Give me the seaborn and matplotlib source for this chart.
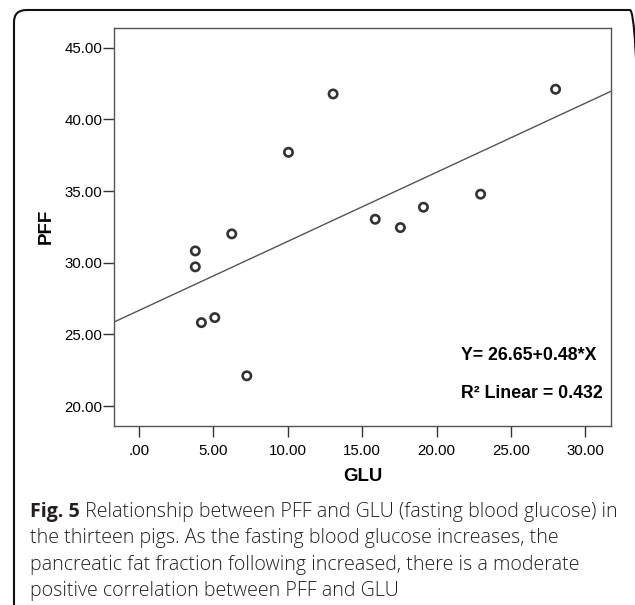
import numpy as np
import pandas as pd
import matplotlib
matplotlib.use("Agg")
import matplotlib.pyplot as plt
import seaborn as sns
from matplotlib.patches import FancyBboxPatch

# ---- data ----
glu = [3.79, 3.79, 6.24, 10.05, 13.05, 15.88, 17.57, 19.12, 22.96, 28.00, 4.20, 5.10, 7.25]
pff = [30.82, 29.71, 32.01, 37.70, 41.77, 33.03, 32.45, 33.87, 34.78, 42.10, 25.82, 26.17, 22.11]
x_ticks = [0, 5, 10, 15, 20, 25, 30]
x_ticklabels = [".00", "5.00", "10.00", "15.00", "20.00", "25.00", "30.00"]
y_ticks = [20, 25, 30, 35, 40, 45]
y_ticklabels = ["20.00", "25.00", "30.00", "35.00", "40.00", "45.00"]
eq_text = "Y= 26.65+0.48*X"
r2_text = "R² Linear = 0.432"
caption_bold = "Fig. 5"
caption_lines = [
    " Relationship between PFF and GLU (fasting blood glucose) in",
    "the thirteen pigs. As the fasting blood glucose increases, the",
    "pancreatic fat fraction following increased, there is a moderate",
    "positive correlation between PFF and GLU",
]

df = pd.DataFrame({"GLU": glu, "PFF": pff})

sns.set_theme(style="white")
plt.rcParams["font.family"] = ["Liberation Sans", "DejaVu Sans"]

fig = plt.figure(figsize=(6.35, 6.05), dpi=100)
fig.patch.set_facecolor("white")

# outer rounded box
box = FancyBboxPatch((14 / 635, -0.05), 0.99, 1 - 10 / 605 + 0.05,
                     boxstyle="round,pad=0,rounding_size=0.02",
                     transform=fig.transFigure, fill=False,
                     edgecolor="#111111", linewidth=1.5, zorder=0)
fig.patches.append(box)

ax = fig.add_axes([114.2 / 635, 179.3 / 605, 496.6 / 635, 397.4 / 605])
xlim = (-1.66, 31.71)
ylim = (18.63, 46.35)
ax.set_xlim(*xlim)
ax.set_ylim(*ylim)

sns.regplot(data=df, x="GLU", y="PFF", ax=ax, ci=None, truncate=False,
            scatter_kws=dict(s=36, facecolors="none", edgecolors="black",
                             linewidths=1.9, zorder=3),
            line_kws=dict(color="#555555", linewidth=1.0, zorder=2))
ax.set_xlim(*xlim)
ax.set_ylim(*ylim)

for sp in ax.spines.values():
    sp.set_visible(True)
    sp.set_color("#555555")
    sp.set_linewidth(1.0)

ax.set_xticks(x_ticks)
ax.set_xticklabels(x_ticklabels)
ax.set_yticks(y_ticks)
ax.set_yticklabels(y_ticklabels)
ax.tick_params(axis="x", direction="out", length=8, width=1, color="#333333",
               labelsize=10.8, labelcolor="#000000", pad=5, bottom=True)
ax.tick_params(axis="y", direction="out", length=8, width=1, color="#333333",
               labelsize=10.8, labelcolor="#000000", pad=0.5, left=True)

ax.set_xlabel("GLU", fontsize=13.4, fontweight="bold", color="#000000")
ax.set_ylabel("PFF", fontsize=13.5, fontweight="bold", color="#000000")
ax.xaxis.set_label_coords(0.501, -0.1266)
ax.xaxis.label.set_va("center")
ax.yaxis.set_label_coords(-0.1377, 0.5025)
ax.yaxis.label.set_va("center")

ax.text(0.9706, 0.1754, eq_text, transform=ax.transAxes, ha="right", va="center",
        fontsize=12.8, fontweight="bold", color="#000000")
ax.text(0.9837, 0.0798, r2_text, transform=ax.transAxes, ha="right", va="center",
        fontsize=12.8, fontweight="bold", color="#000000")

# caption
cap_font = ["Open Sans", "DejaVu Sans"]
cap_color = "#231f20"
cap_size = 14.1
x0 = 30 / 635
baselines = [517, 543, 570, 596]
fig.canvas.draw()
renderer = fig.canvas.get_renderer()
tb = fig.text(x0, 1 - baselines[0] / 605, caption_bold, fontsize=cap_size,
              fontweight="bold", family=cap_font, color=cap_color, va="baseline")
w = tb.get_window_extent(renderer=renderer).width / fig.bbox.width
fig.text(x0 + w, 1 - baselines[0] / 605, caption_lines[0], fontsize=cap_size,
         fontweight="light", family=cap_font, color=cap_color, va="baseline")
for line, b in zip(caption_lines[1:], baselines[1:]):
    fig.text(x0, 1 - b / 605, line, fontsize=cap_size, family=cap_font,
             fontweight="light", color=cap_color, va="baseline")

fig.savefig("out.png", dpi=100)
